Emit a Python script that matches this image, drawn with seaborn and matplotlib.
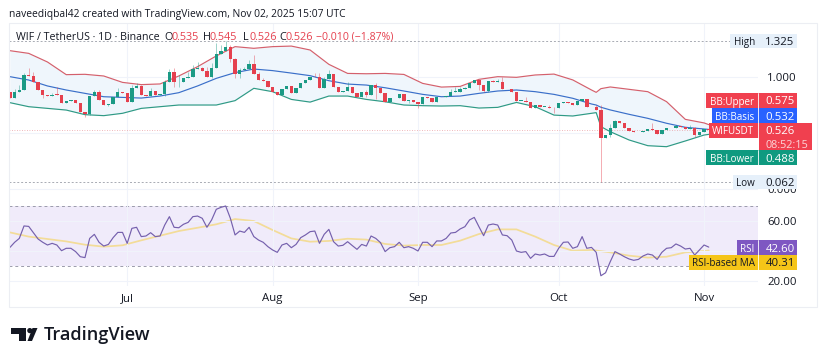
import numpy as np
import pandas as pd
import matplotlib
matplotlib.use("Agg")
import matplotlib.pyplot as plt
from matplotlib.patches import Rectangle, Polygon, Circle
import seaborn as sns

closes = [0.810, 0.863, 0.884, 1.018, 1.012, 0.952, 0.884, 0.839, 0.833, 0.842,
          0.839, 0.765, 0.786, 0.792, 0.765, 0.690, 0.670, 0.830, 0.863, 0.795,
          0.750, 0.759, 0.824, 0.863, 0.854, 0.780, 0.905, 0.920, 0.839, 0.833,
          0.875, 0.839, 0.845, 0.952, 1.048, 0.952, 0.958, 0.988, 1.003, 1.068,
          1.077, 1.057, 0.997, 1.077, 1.205, 1.235, 1.265, 1.158, 1.027, 1.062,
          1.068, 1.116, 1.027, 0.973, 0.967, 0.914, 0.869, 0.839, 0.890, 0.919,
          0.860, 0.898, 0.949, 0.973, 1.003, 0.997, 0.898, 0.979, 1.026, 0.913,
          0.863, 0.878, 0.907, 0.854, 0.818, 0.866, 0.839, 0.925, 0.898, 0.860,
          0.773, 0.809, 0.809, 0.845, 0.788, 0.791, 0.779, 0.759, 0.818, 0.809,
          0.776, 0.818, 0.818, 0.830, 0.866, 0.869, 0.892, 0.901, 0.943, 0.973,
          0.925, 0.875, 0.961, 0.958, 0.958, 0.890, 0.892, 0.869, 0.788, 0.788,
          0.779, 0.726, 0.747, 0.735, 0.735, 0.726, 0.720, 0.765, 0.780, 0.765,
          0.747, 0.786, 0.804, 0.735, 0.730, 0.706, 0.459, 0.483, 0.548, 0.605,
          0.587, 0.542, 0.518, 0.506, 0.509, 0.521, 0.533, 0.527, 0.488, 0.527,
          0.542, 0.548, 0.563, 0.551, 0.536, 0.542, 0.480, 0.512, 0.535, 0.526]
first_open = 0.869

# only the wicks that show up in the picture
high_days = [1, 2, 3, 4, 5, 9, 10, 18, 19, 23, 26, 27, 28, 30, 33, 34, 35, 36, 38, 39, 40, 41, 42, 43, 44,
             45, 46, 47, 48, 49, 50, 51, 52, 53, 54, 65, 66, 67, 68, 69, 72, 76, 78, 94, 95, 96, 97, 103,
             104, 105, 110, 115, 116, 125, 126, 128, 129, 137, 142, 145, 146]
high_vals = [0.890, 0.929, 1.040, 1.077, 1.048, 0.860, 0.908, 0.884, 0.884, 0.899, 0.929, 0.949, 0.929, 0.899,
             0.973, 1.068, 1.077, 1.018, 1.048, 1.107, 1.137, 1.092, 1.092, 1.122, 1.300, 1.286, 1.325, 1.286,
             1.167, 1.077, 1.092, 1.152, 1.196, 1.048, 0.988, 1.032, 1.038, 1.003, 1.062, 0.958, 0.958, 0.884,
             0.943, 0.890, 0.907, 0.913, 0.913, 0.973, 0.979, 0.997, 0.818, 0.750, 0.735, 0.750, 0.750, 0.578,
             0.616, 0.587, 0.572, 0.572, 0.557]
low_days = [7, 16, 17, 21, 33, 35, 36, 43, 47, 48, 49, 76, 78, 85, 87, 100, 101, 102, 116, 126, 127, 128, 146]
low_vals = [0.810, 0.640, 0.661, 0.741, 0.830, 0.908, 0.908, 0.988, 1.137, 0.988, 0.988, 0.818, 0.800, 0.765,
            0.726, 0.884, 0.869, 0.869, 0.681, 0.062, 0.453, 0.468, 0.468]

band_days = [0, 4, 8, 12, 16, 20, 24, 28, 32, 36, 40, 44, 48, 52, 56,
             60, 64, 68, 72, 76, 80, 84, 88, 92, 96, 100, 104, 108, 112, 116,
             120, 124, 125, 126, 128, 132, 136, 140, 144, 148, 149]
bb_upper = [1.235, 1.211, 1.134, 1.021, 1.024, 1.009, 0.952, 0.932, 0.938, 1.009, 1.092, 1.188, 1.271, 1.256, 1.271,
            1.276, 1.241, 1.113, 1.032, 1.029, 1.032, 1.023, 0.943, 0.910, 0.916, 0.979, 1.003, 0.997, 1.018, 1.026,
            0.974, 0.884, 0.863, 0.896, 0.911, 0.890, 0.869, 0.780, 0.622, 0.590, 0.575]
bb_basis = [1.003, 0.973, 0.920, 0.884, 0.854, 0.824, 0.818, 0.812, 0.830, 0.860, 0.920, 0.988, 1.039, 1.071, 1.057,
            1.035, 1.012, 0.967, 0.937, 0.928, 0.904, 0.875, 0.845, 0.824, 0.830, 0.854, 0.875, 0.884, 0.869, 0.845,
            0.810, 0.759, 0.750, 0.730, 0.706, 0.667, 0.631, 0.587, 0.551, 0.536, 0.532]
bb_lower = [0.771, 0.735, 0.720, 0.705, 0.664, 0.655, 0.676, 0.720, 0.735, 0.750, 0.750, 0.750, 0.789, 0.899, 0.869,
            0.800, 0.776, 0.830, 0.830, 0.800, 0.779, 0.750, 0.744, 0.741, 0.744, 0.723, 0.729, 0.773, 0.735, 0.660,
            0.652, 0.676, 0.682, 0.557, 0.512, 0.438, 0.387, 0.378, 0.429, 0.482, 0.488]

rsi = [42.4, 45.8, 48.4, 56.7, 56.4, 52.2, 48.0, 45.8, 44.0, 45.1,
       44.0, 40.2, 41.8, 41.8, 39.6, 36.2, 35.6, 48.4, 51.1, 45.8,
       43.3, 44.4, 48.9, 52.4, 52.4, 45.1, 55.1, 55.8, 49.6, 50.0,
       52.2, 49.6, 50.0, 57.3, 62.9, 55.8, 55.5, 57.8, 59.1, 62.9,
       63.3, 61.8, 55.8, 60.7, 67.8, 69.1, 70.0, 61.8, 50.7, 53.3,
       52.4, 55.8, 49.6, 47.3, 45.8, 42.9, 40.7, 39.1, 44.0, 45.1,
       42.2, 44.4, 48.9, 50.7, 52.9, 53.3, 45.1, 51.1, 54.4, 46.2,
       43.3, 43.8, 46.2, 43.6, 41.1, 44.4, 43.3, 50.0, 48.4, 45.6,
       39.6, 42.2, 42.9, 45.8, 42.2, 42.9, 41.8, 40.0, 45.8, 45.8,
       42.9, 46.7, 46.7, 48.4, 52.0, 52.4, 54.7, 56.2, 60.7, 62.4,
       56.2, 50.2, 57.3, 58.0, 57.3, 50.7, 50.2, 47.3, 40.0, 39.1,
       39.6, 35.1, 38.0, 37.3, 38.0, 36.4, 36.4, 41.8, 45.8, 46.0,
       41.8, 42.9, 49.6, 41.8, 42.4, 39.1, 23.5, 25.5, 32.9, 39.6,
       38.0, 36.2, 34.7, 33.8, 34.4, 36.7, 38.0, 37.3, 34.4, 39.1,
       41.8, 42.2, 44.7, 43.3, 41.3, 41.8, 37.3, 40.7, 44.0, 42.6]

ma_days = [0, 4, 8, 12, 16, 20, 24, 28, 32, 36, 40, 44, 48, 52, 56,
           60, 64, 68, 72, 76, 80, 84, 88, 92, 96, 100, 104, 108, 112, 116,
           120, 124, 128, 132, 136, 140, 144, 148, 149]
rsi_ma = [52.4, 49.6, 48.0, 46.4, 44.2, 42.9, 43.8, 47.1, 50.2, 53.3, 55.5, 57.8, 61.3, 60.0, 54.0,
          48.4, 46.2, 46.7, 48.2, 47.6, 44.7, 43.6, 44.0, 44.0, 46.9, 51.3, 54.4, 54.4, 49.6, 44.0,
          40.2, 40.7, 39.1, 36.9, 35.6, 36.2, 39.1, 40.0, 40.3]

month_days = [25, 56, 87, 117, 148]
month_labels = ["Jul", "Aug", "Sep", "Oct", "Nov"]

RED = "#e5404e"
GREEN = "#1b9a85"
BLUE = "#2962ff"
PURPLE = "#7e57c2"
YELLOW = "#f5c518"
INK = "#131722"

W, H = 825, 361


def pane(left, top, right, bottom):
    return [left / W, 1 - bottom / H, (right - left) / W, (bottom - top) / H]


sns.set_theme(style="white")
plt.rcParams["font.family"] = ["Open Sans", "DejaVu Sans"]

fig = plt.figure(figsize=(W / 100, H / 100), dpi=100)
ax = fig.add_axes(pane(9, 23, 758, 198))
ax2 = fig.add_axes(pane(9, 198, 758, 286))

opens = np.array([first_open] + closes[:-1])
closes_a = np.array(closes)
days = np.arange(len(closes))
highs = np.maximum(opens, closes_a)
lows = np.minimum(opens, closes_a)
highs[high_days] = np.maximum(highs[high_days], high_vals)
lows[low_days] = np.minimum(lows[low_days], low_vals)
up = closes_a >= opens
colors = np.where(up, GREEN, RED)

bands = pd.DataFrame({"day": band_days, "upper": bb_upper, "basis": bb_basis, "lower": bb_lower})
ax.fill_between(bands["day"], bands["lower"], bands["upper"], color="#eff6fc", lw=0, zorder=1)
sns.lineplot(data=bands, x="day", y="upper", ax=ax, color="#d4606c", lw=0.85, zorder=2)
sns.lineplot(data=bands, x="day", y="basis", ax=ax, color="#3a6fc9", lw=0.85, zorder=2)
sns.lineplot(data=bands, x="day", y="lower", ax=ax, color="#2f9a85", lw=0.85, zorder=2)

ax.vlines(days, lows, highs, colors=colors, lw=0.6, alpha=0.5, zorder=3)
ax.bar(days, np.maximum(np.abs(closes_a - opens), 0.006), bottom=np.minimum(opens, closes_a),
       width=0.72, color=colors, lw=0, zorder=4)

ax.axhline(1.325, color="#a8abb3", lw=0.7, ls=(0, (2, 2)), zorder=1)
ax.axhline(0.062, color="#a8abb3", lw=0.7, ls=(0, (2, 2)), zorder=1)
ax.axhline(0.526, color="#eaa0a6", lw=0.6, ls=(0, (1, 2)), zorder=1)

ax.set_xlim(-0.2, 159.5)
ax.set_ylim(-0.080, 1.482)
ax.set_yticks([0.0, 0.5, 1.0])
ax.set_yticklabels(["0.000", "", "1.000"])
ax.set_xticks(month_days)
ax.set_xticklabels([])
ax.yaxis.tick_right()
ax.tick_params(axis="y", length=0, pad=6.5, labelsize=8.2, labelcolor=INK)
ax.tick_params(axis="x", length=0)
ax.set_xlabel("")
ax.set_ylabel("")
ax.grid(True, color="#f0f3fa", lw=0.8)
ax.set_axisbelow(True)

rsi_df = pd.DataFrame({"day": days, "rsi": rsi})
ma_df = pd.DataFrame({"day": ma_days, "ma": rsi_ma})
ax2.axhspan(30, 70, color="#f0ebfa", lw=0, zorder=0)
ax2.axhline(70, color="#9b9bab", lw=0.7, ls=(0, (3, 3)), zorder=1)
ax2.axhline(30, color="#9b9bab", lw=0.7, ls=(0, (3, 3)), zorder=1)
sns.lineplot(data=ma_df, x="day", y="ma", ax=ax2, color="#f3dc98", lw=1.25, zorder=2)
sns.lineplot(data=rsi_df, x="day", y="rsi", ax=ax2, color="#7560ad", lw=0.85, zorder=3)
ax2.set_xlim(-0.2, 159.5)
ax2.set_ylim(16.67, 75.33)
ax2.set_yticks([20, 40, 60])
ax2.set_yticklabels(["20.00", "", "60.00"])
ax2.set_xticks(month_days)
ax2.set_xticklabels(month_labels, fontweight="medium")
ax2.yaxis.tick_right()
ax2.tick_params(axis="y", length=0, pad=6.5, labelsize=8.2, labelcolor=INK)
ax2.tick_params(axis="x", length=0, pad=5, labelsize=8.2, labelcolor=INK)
ax2.set_xlabel("")
ax2.set_ylabel("")
ax2.grid(True, color="#f0f3fa", lw=0.8)
ax2.set_axisbelow(False)

for a in (ax, ax2):
    for s in a.spines.values():
        s.set_visible(False)
    a.patch.set_alpha(0)

# pixel overlay for the title, price tags and logo
top = fig.add_axes([0, 0, 1, 1])
top.set_xlim(0, W)
top.set_ylim(H, 0)
top.axis("off")
top.patch.set_alpha(0)

top.add_patch(Rectangle((8.5, 23), 808.5, 284, fill=False, ec="#eceef3", lw=0.8))
top.text(9, 14, "naveediqbal42 created with TradingView.com, Nov 02, 2025 15:07 UTC",
         fontsize=7.35, color=INK, va="center")

legend_parts = [(16, "WIF / TetherUS · 1D · Binance", INK, 7.7), (164, "O", INK, 7.8), (171, "0.535", RED, 7.8),
                (203, "H", INK, 7.8), (210, "0.545", RED, 7.8), (243, "L", INK, 7.8), (249, "0.526", RED, 7.8),
                (279, "C", INK, 7.8), (286, "0.526", RED, 7.8), (316, "−0.010 (−1.87%)", RED, 7.6)]
for x, s, c, fs in legend_parts:
    top.text(x, 37, s, fontsize=fs, color=c, va="center")


def tag(x0, x1, y0, y1, label, value, bg, fg="white", label_x=None, div=True):
    top.add_patch(Rectangle((x0, y0), x1 - x0, y1 - y0, fc=bg, ec="none"))
    if div:
        top.plot([758, 758], [y0, y1], color="white", lw=0.6)
    ym = (y0 + y1) / 2
    top.text(label_x, ym, label, color=fg, fontsize=7.1, ha="center", va="center_baseline")
    top.text(780, ym, value, color=fg, fontsize=8.2, ha="center", va="center_baseline")


tag(730, 797, 34, 48, "High", "1.325", "#e6f0fa", INK, 745, div=False)
tag(706, 797, 93, 108, "BB:Upper", "0.575", "#f0404f", "white", 732)
tag(712, 797, 108, 123, "BB:Basis", "0.532", BLUE, "white", 735)
top.add_patch(Rectangle((759, 138), 53, 12, fc="#f0404f", ec="none"))
tag(709, 812, 123, 138, "WIFUSDT", "0.526", "#f0404f", "white", 733)
top.text(787, 143.5, "08:52:15", color="#fbd5d8", fontsize=7.8, ha="center", va="center_baseline")
tag(706, 797, 150, 165, "BB:Lower", "0.488", "#0f9a80", "white", 732)
tag(733, 797, 175, 189, "Low", "0.062", "#e6f0fa", INK, 745, div=False)
tag(737, 797, 240, 255, "RSI", "42.60", PURPLE, "white", 747)
tag(689, 797, 255, 270, "RSI-based MA", "40.31", YELLOW, INK, 723)

# logo
top.add_patch(Polygon([(11, 328), (26, 328), (26, 341), (19, 341), (19, 334), (11, 334)], fc=INK, ec="none"))
top.add_patch(Circle((29.8, 330.6), 2.6, fc=INK, ec="none"))
top.add_patch(Polygon([(32.5, 328), (37.5, 328), (32, 341), (27.5, 341)], fc=INK, ec="none"))
top.text(44, 335, "TradingView", fontsize=13.1, fontweight="semibold", color=INK, va="center",
         family=["Open Sans", "DejaVu Sans"])

fig.savefig("out.png", dpi=100, facecolor="white")
